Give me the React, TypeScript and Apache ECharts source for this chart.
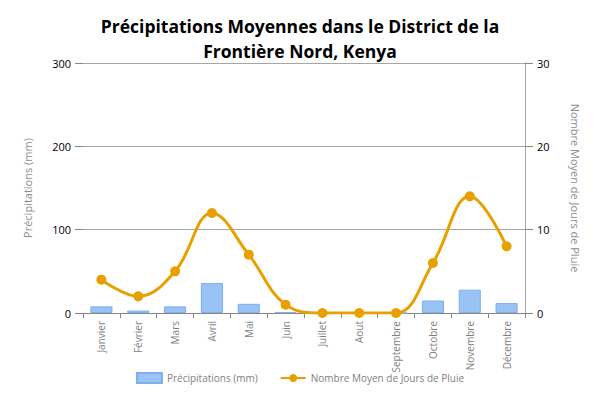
import React, { useEffect, useRef } from "react";
import * as echarts from "echarts";

const months = ["Janvier", "Février", "Mars", "Avril", "Mai", "Juin", "Juillet", "Aout", "Septembre", "Octobre", "Novembre", "Décembre"];
const precipitation = [8, 3, 8, 36, 11, 1, 0, 0, 0, 15, 28, 12];
const rainyDays = [4, 2, 5, 12, 7, 1, 0, 0, 0, 6, 14, 8];
const leftTicks = [0, 100, 200, 300];
const rightTicks = [0, 10, 20, 30];

export default function App() {
  const ref = useRef<HTMLDivElement>(null);
  useEffect(() => {
    if (!ref.current) return;
    const chart = echarts.init(ref.current, undefined, { renderer: "svg" });
    chart.setOption({
      animation: false,
      backgroundColor: "#ffffff",
      title: {
        text: "Précipitations Moyennes dans le District de la\nFrontière Nord, Kenya",
        left: "center",
        top: 8,
        textStyle: { fontFamily: "Open Sans", fontWeight: "bold", fontSize: 17.5, lineHeight: 25, color: "#000" },
      },
      legend: {
        bottom: 10,
        left: "center",
        itemGap: 22,
        itemWidth: 25,
        itemHeight: 10,
        textStyle: { fontFamily: "Open Sans", fontSize: 10, color: "#7f7f7f" },
        data: [
          { name: "Précipitations (mm)", icon: "rect" },
          { name: "Nombre Moyen de Jours de Pluie" },
        ],
      },
      grid: { left: 83, right: 75, top: 63, bottom: 86, containLabel: false },
      xAxis: {
        type: "category",
        data: months,
        axisLine: { lineStyle: { color: "#868686" } },
        axisTick: { show: true, lineStyle: { color: "#868686" }, length: 5 },
        axisLabel: { rotate: 90, color: "#7f7f7f", fontFamily: "Open Sans", fontSize: 10, margin: 8 },
      },
      yAxis: [
        {
          type: "value",
          min: leftTicks[0],
          max: leftTicks[leftTicks.length - 1],
          interval: 100,
          name: "Précipitations (mm)",
          nameLocation: "middle",
          nameGap: 50,
          nameTextStyle: { color: "#8c8c8c", fontFamily: "Open Sans", fontSize: 11 },
          axisLine: { show: false },
          axisTick: { show: true, length: 8, lineStyle: { color: "#868686" } },
          axisLabel: { color: "#000", fontFamily: "Open Sans", fontSize: 11, margin: 12 },
          splitLine: { lineStyle: { color: "#a6a6a6" } },
        },
        {
          type: "value",
          min: rightTicks[0],
          max: rightTicks[rightTicks.length - 1],
          interval: 10,
          name: "Nombre Moyen de Jours de Pluie",
          nameLocation: "middle",
          nameGap: 45,
          nameRotate: -90,
          nameTextStyle: { color: "#8c8c8c", fontFamily: "Open Sans", fontSize: 11 },
          axisLine: { show: true, lineStyle: { color: "#a6a6a6" } },
          axisTick: { show: true, length: 8, lineStyle: { color: "#868686" } },
          axisLabel: { color: "#000", fontFamily: "Open Sans", fontSize: 11, margin: 12 },
          splitLine: { show: false },
        },
      ],
      series: [
        {
          name: "Précipitations (mm)",
          type: "bar",
          data: precipitation,
          barWidth: "60%",
          itemStyle: { color: "#99c2f5", borderColor: "#7eb0f0", borderWidth: 1 },
        },
        {
          name: "Nombre Moyen de Jours de Pluie",
          type: "line",
          yAxisIndex: 1,
          data: rainyDays,
          smooth: 0.4,
          symbol: "circle",
          symbolSize: 10,
          lineStyle: { color: "#e6a100", width: 3 },
          itemStyle: { color: "#e6a100" },
        },
      ],
    });
    return () => chart.dispose();
  }, []);
  return <div ref={ref} style={{ width: 600, height: 399, margin: -8 }} />;
}
